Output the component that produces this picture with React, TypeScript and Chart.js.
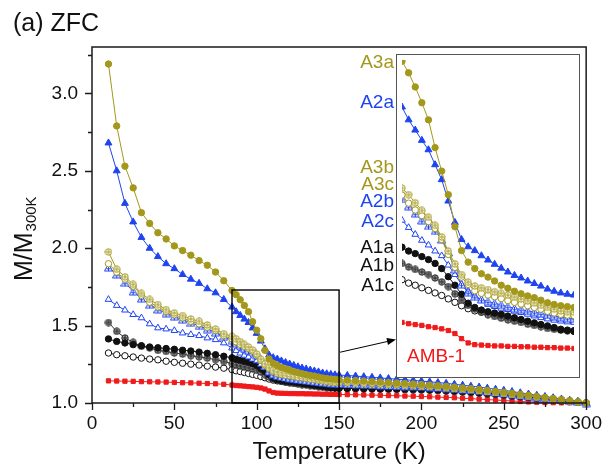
import React, { useEffect, useRef } from 'react';
import { Chart, registerables } from 'chart.js';

Chart.register(...registerables);

const FONT = '"Liberation Sans", Arial, Helvetica, sans-serif';
const OLIVE = '#a3981c';
const BLUE = '#1e44f0';
const RED = '#f01a1a';
const BLACK = '#111111';

const temps = [10, 15, 20, 25, 30, 35, 40, 45, 50, 55, 60, 65, 70, 75, 80, 85,
  87.5, 90, 92.5, 95, 97.5, 100, 102.5, 105, 107.5, 110, 112.5, 115, 117.5, 120, 122.5, 125, 127.5, 130, 132.5, 135, 137.5, 140, 142.5, 145, 147.5, 150,
  155, 160, 165, 170, 175, 180, 185, 190, 195, 200, 205, 210, 215, 220, 225, 230, 235, 240, 245, 250, 255, 260, 265, 270, 275, 280, 285, 290, 295, 300];

const a3a = [3.19, 2.79, 2.53, 2.39, 2.23, 2.16, 2.10, 2.06, 2.015, 1.985, 1.955, 1.92, 1.89, 1.846, 1.79, 1.727,
  1.70, 1.667, 1.63, 1.59, 1.525, 1.47, 1.415, 1.34, 1.284, 1.257, 1.242, 1.23, 1.222, 1.213, 1.203, 1.196, 1.189, 1.183, 1.178, 1.174, 1.168, 1.162, 1.158, 1.155, 1.153, 1.151,
  1.148, 1.145, 1.142, 1.139, 1.136, 1.133, 1.13, 1.127, 1.123, 1.12, 1.116, 1.112, 1.108, 1.103, 1.098, 1.093, 1.088, 1.082, 1.076, 1.07, 1.064, 1.057, 1.05, 1.043, 1.036, 1.029, 1.022, 1.015, 1.007, 1.0];

const a2a = [2.68, 2.50, 2.29, 2.17, 2.07, 2.00, 1.946, 1.90, 1.868, 1.83, 1.80, 1.773, 1.738, 1.712, 1.669, 1.62,
  1.59, 1.566, 1.542, 1.52, 1.485, 1.45, 1.40, 1.35, 1.31, 1.293, 1.284, 1.272, 1.262, 1.252, 1.243, 1.234, 1.226, 1.22, 1.213, 1.207, 1.201, 1.194, 1.189, 1.185, 1.182, 1.18,
  1.178, 1.174, 1.17, 1.166, 1.162, 1.158, 1.154, 1.15, 1.146, 1.142, 1.137, 1.132, 1.127, 1.121, 1.115, 1.109, 1.103, 1.096, 1.089, 1.082, 1.074, 1.066, 1.058, 1.05, 1.042, 1.034, 1.026, 1.017, 1.009, 1.0];

const a3b = [1.976, 1.864, 1.816, 1.766, 1.708, 1.669, 1.636, 1.604, 1.582, 1.565, 1.543, 1.528, 1.504, 1.478, 1.448, 1.43,
  1.415, 1.396, 1.378, 1.362, 1.343, 1.316, 1.283, 1.253, 1.228, 1.21, 1.201, 1.197, 1.193, 1.188, 1.184, 1.18, 1.175, 1.171, 1.167, 1.162, 1.156, 1.151, 1.147, 1.143, 1.141, 1.14,
  1.138, 1.136, 1.133, 1.131, 1.128, 1.126, 1.123, 1.12, 1.118, 1.115, 1.111, 1.107, 1.103, 1.099, 1.094, 1.089, 1.083, 1.077, 1.071, 1.065, 1.059, 1.053, 1.047, 1.041, 1.035, 1.028, 1.021, 1.014, 1.007, 1.0];

const a3c = [1.90, 1.846, 1.80, 1.755, 1.697, 1.651, 1.62, 1.591, 1.57, 1.55, 1.528, 1.511, 1.49, 1.468, 1.435, 1.414,
  1.395, 1.379, 1.366, 1.352, 1.336, 1.31, 1.275, 1.245, 1.222, 1.205, 1.19, 1.184, 1.18, 1.176, 1.172, 1.167, 1.163, 1.159, 1.155, 1.151, 1.147, 1.142, 1.138, 1.135, 1.133, 1.132,
  1.13, 1.128, 1.126, 1.124, 1.122, 1.12, 1.118, 1.115, 1.113, 1.11, 1.107, 1.103, 1.099, 1.095, 1.091, 1.086, 1.081, 1.075, 1.069, 1.063, 1.057, 1.051, 1.045, 1.039, 1.033, 1.027, 1.02, 1.013, 1.007, 1.0];

const a2b = [1.875, 1.831, 1.777, 1.72, 1.675, 1.635, 1.605, 1.58, 1.558, 1.538, 1.518, 1.498, 1.478, 1.455, 1.428, 1.405,
  1.388, 1.371, 1.355, 1.342, 1.33, 1.31, 1.28, 1.24, 1.205, 1.186, 1.176, 1.17, 1.165, 1.161, 1.157, 1.153, 1.149, 1.146, 1.143, 1.14, 1.137, 1.134, 1.131, 1.128, 1.126, 1.125,
  1.123, 1.121, 1.119, 1.117, 1.115, 1.113, 1.111, 1.109, 1.108, 1.106, 1.103, 1.1, 1.096, 1.092, 1.088, 1.084, 1.079, 1.074, 1.068, 1.062, 1.056, 1.05, 1.044, 1.038, 1.032, 1.026, 1.02, 1.013, 1.007, 1.0];

const a2c = [1.669, 1.63, 1.60, 1.571, 1.55, 1.511, 1.485, 1.478, 1.468, 1.452, 1.442, 1.435, 1.42, 1.409, 1.388, 1.355,
  1.338, 1.322, 1.308, 1.297, 1.283, 1.272, 1.25, 1.228, 1.205, 1.19, 1.178, 1.168, 1.158, 1.153, 1.149, 1.146, 1.142, 1.139, 1.135, 1.131, 1.127, 1.124, 1.121, 1.119, 1.117, 1.116,
  1.114, 1.113, 1.111, 1.11, 1.109, 1.108, 1.107, 1.105, 1.104, 1.102, 1.099, 1.096, 1.093, 1.089, 1.085, 1.081, 1.076, 1.071, 1.066, 1.06, 1.055, 1.049, 1.043, 1.037, 1.031, 1.025, 1.019, 1.013, 1.006, 1.0];

const a1a = [1.414, 1.398, 1.388, 1.377, 1.37, 1.362, 1.357, 1.352, 1.347, 1.341, 1.336, 1.329, 1.321, 1.312, 1.302, 1.292,
  1.283, 1.277, 1.27, 1.263, 1.254, 1.242, 1.223, 1.203, 1.182, 1.161, 1.151, 1.145, 1.141, 1.138, 1.135, 1.131, 1.127, 1.123, 1.119, 1.115, 1.111, 1.108, 1.104, 1.099, 1.097, 1.095,
  1.094, 1.094, 1.093, 1.093, 1.092, 1.092, 1.091, 1.091, 1.09, 1.089, 1.087, 1.085, 1.082, 1.079, 1.076, 1.072, 1.068, 1.064, 1.059, 1.054, 1.049, 1.044, 1.039, 1.034, 1.029, 1.023, 1.017, 1.011, 1.006, 1.0];

const a1b = [1.52, 1.463, 1.42, 1.392, 1.366, 1.355, 1.34, 1.333, 1.323, 1.316, 1.305, 1.298, 1.29, 1.28, 1.268, 1.254,
  1.246, 1.24, 1.234, 1.228, 1.22, 1.211, 1.2, 1.183, 1.168, 1.156, 1.147, 1.14, 1.134, 1.13, 1.126, 1.122, 1.119, 1.116, 1.112, 1.109, 1.106, 1.102, 1.1, 1.098, 1.097, 1.096,
  1.095, 1.094, 1.093, 1.092, 1.091, 1.09, 1.089, 1.088, 1.087, 1.086, 1.084, 1.082, 1.079, 1.076, 1.073, 1.069, 1.065, 1.061, 1.057, 1.052, 1.047, 1.042, 1.037, 1.032, 1.027, 1.021, 1.016, 1.01, 1.005, 1.0];

const a1c = [1.323, 1.312, 1.305, 1.297, 1.29, 1.284, 1.279, 1.27, 1.263, 1.257, 1.251, 1.245, 1.238, 1.232, 1.225, 1.216,
  1.208, 1.203, 1.197, 1.191, 1.185, 1.179, 1.171, 1.163, 1.155, 1.148, 1.143, 1.14, 1.136, 1.133, 1.129, 1.126, 1.122, 1.119, 1.116, 1.112, 1.109, 1.105, 1.102, 1.1, 1.098, 1.097,
  1.096, 1.095, 1.093, 1.092, 1.09, 1.089, 1.088, 1.086, 1.085, 1.084, 1.082, 1.08, 1.077, 1.074, 1.071, 1.067, 1.063, 1.059, 1.055, 1.05, 1.045, 1.04, 1.035, 1.03, 1.025, 1.02, 1.015, 1.01, 1.005, 1.0];

const amb1 = [1.143, 1.142, 1.141, 1.14, 1.138, 1.137, 1.136, 1.135, 1.133, 1.131, 1.13, 1.128, 1.126, 1.124, 1.121, 1.116,
  1.113, 1.111, 1.109, 1.106, 1.104, 1.101, 1.097, 1.09, 1.078, 1.068, 1.064, 1.063, 1.062, 1.061, 1.061, 1.06, 1.06, 1.059, 1.059, 1.058, 1.058, 1.057, 1.057, 1.056, 1.056, 1.055,
  1.054, 1.053, 1.052, 1.051, 1.05, 1.048, 1.047, 1.045, 1.044, 1.042, 1.04, 1.038, 1.036, 1.034, 1.031, 1.028, 1.025, 1.022, 1.019, 1.016, 1.013, 1.01, 1.007, 1.005, 1.003, 1.002, 1.001, 1.001, 1.0, 1.0];

const xMajorTicks = [0, 50, 100, 150, 200, 250, 300];
const xMinorTicks = [25, 75, 125, 175, 225, 275];
const yMajorTicks = [1.0, 1.5, 2.0, 2.5, 3.0];
const yMinorTicks = [1.25, 1.75, 2.25, 2.75, 3.25];

const zoomRange = { xMin: 85, xMax: 150, yMin: 1.0, yMax: 1.73 };

// label layout for the inset legend (pixel rows, right aligned next to inset)
const labelRows: [string, string, number][] = [
  ['A3a', OLIVE, 63], ['A2a', BLUE, 103], ['A3b', OLIVE, 168], ['A3c', OLIVE, 185],
  ['A2b', BLUE, 202], ['A2c', BLUE, 222], ['A1a', BLACK, 248], ['A1b', BLACK, 266], ['A1c', BLACK, 286],
];

function makeMarker(kind: string, stroke: string, fill: string, size = 8) {
  const c = document.createElement('canvas');
  c.width = size; c.height = size;
  const g = c.getContext('2d')!;
  g.lineWidth = 1;
  g.strokeStyle = stroke; g.fillStyle = fill;
  const m = size / 2;
  if (kind === 'circlePlus') {
    g.beginPath(); g.arc(m, m, m - 0.8, 0, Math.PI * 2); g.fill(); g.stroke();
    g.beginPath(); g.moveTo(m, 1.5); g.lineTo(m, size - 1.5); g.moveTo(1.5, m); g.lineTo(size - 1.5, m); g.stroke();
  } else {
    g.beginPath(); g.moveTo(m, 0.5); g.lineTo(size - 0.5, size - 1); g.lineTo(0.5, size - 1); g.closePath(); g.fill(); g.stroke();
    g.beginPath(); g.moveTo(m, 3); g.lineTo(m, size - 1); g.moveTo(2.5, size * 0.64); g.lineTo(size - 2.5, size * 0.64); g.stroke();
  }
  return c;
}

export default function App() {
  const mainRef = useRef<HTMLCanvasElement>(null);
  const insetRef = useRef<HTMLCanvasElement>(null);

  useEffect(() => {
    const series = [
      { label: 'A3a', values: a3a, color: OLIVE, pointStyle: 'circle' as any, fill: OLIVE, radius: 3.2 },
      { label: 'A2a', values: a2a, color: BLUE, pointStyle: 'triangle' as any, fill: BLUE, radius: 4 },
      { label: 'A3b', values: a3b, color: OLIVE, pointStyle: makeMarker('circlePlus', OLIVE, '#ffffff') as any, fill: '#fff', radius: 4 },
      { label: 'A3c', values: a3c, color: OLIVE, pointStyle: 'circle' as any, fill: '#ffffff', radius: 3.2 },
      { label: 'A2b', values: a2b, color: BLUE, pointStyle: makeMarker('triPlus', BLUE, '#ffffff', 9) as any, fill: '#fff', radius: 4 },
      { label: 'A2c', values: a2c, color: BLUE, pointStyle: 'triangle' as any, fill: '#ffffff', radius: 3.8 },
      { label: 'A1a', values: a1a, color: BLACK, pointStyle: 'circle' as any, fill: BLACK, radius: 3.2 },
      { label: 'A1b', values: a1b, color: '#333333', pointStyle: makeMarker('circlePlus', '#222222', '#9a9a9a') as any, fill: '#999', radius: 4 },
      { label: 'A1c', values: a1c, color: BLACK, pointStyle: 'circle' as any, fill: '#ffffff', radius: 3.2 },
      { label: 'AMB-1', values: amb1, color: RED, pointStyle: 'rect' as any, fill: RED, radius: 3 },
    ];
    const build = (clip: any) => series.map((s) => ({
      label: s.label,
      data: temps.map((t, i) => ({ x: t, y: s.values[i] })),
      borderColor: s.color,
      backgroundColor: s.fill,
      borderWidth: 1,
      pointStyle: s.pointStyle,
      pointRadius: s.radius,
      pointBackgroundColor: s.fill,
      pointBorderColor: s.color,
      pointBorderWidth: 1,
      tension: 0,
      fill: false,
      clip,
    }));

    const mainDecor = {
      id: 'mainDecor',
      afterDraw(chart: any) {
        const { ctx, chartArea: a, scales } = chart;
        const x = scales.x, y = scales.y;
        ctx.save();
        ctx.strokeStyle = '#1a1a1a';
        ctx.lineWidth = 1.3;
        ctx.beginPath();
        xMajorTicks.forEach((t) => { const p = Math.round(x.getPixelForValue(t)) + 0.5; ctx.moveTo(p, a.bottom); ctx.lineTo(p, a.bottom + 7); });
        xMinorTicks.forEach((t) => { const p = Math.round(x.getPixelForValue(t)) + 0.5; ctx.moveTo(p, a.bottom); ctx.lineTo(p, a.bottom + 4); });
        yMajorTicks.forEach((v) => { const p = Math.round(y.getPixelForValue(v)) + 0.5; ctx.moveTo(a.left, p); ctx.lineTo(a.left - 7, p); });
        yMinorTicks.forEach((v) => { const p = Math.round(y.getPixelForValue(v)) + 0.5; ctx.moveTo(a.left, p); ctx.lineTo(a.left - 4, p); });
        ctx.stroke();
        ctx.lineWidth = 1.5;
        ctx.strokeRect(a.left, a.top, a.right - a.left, a.bottom - a.top);

        // zoom rectangle
        const rx0 = x.getPixelForValue(zoomRange.xMin), rx1 = x.getPixelForValue(zoomRange.xMax);
        const ry0 = y.getPixelForValue(zoomRange.yMax), ry1 = y.getPixelForValue(zoomRange.yMin);
        ctx.strokeStyle = '#000';
        ctx.lineWidth = 1.4;
        ctx.strokeRect(rx0, ry0, rx1 - rx0, ry1 - ry0);

        // arrow to inset
        const sx = rx1 + 1, sy = y.getPixelForValue(1.328);
        const ex = 396, ey = y.getPixelForValue(1.41);
        const ang = Math.atan2(ey - sy, ex - sx);
        ctx.lineWidth = 1;
        ctx.beginPath(); ctx.moveTo(sx, sy); ctx.lineTo(ex - 6 * Math.cos(ang), ey - 6 * Math.sin(ang)); ctx.stroke();
        ctx.fillStyle = '#000';
        ctx.beginPath();
        ctx.moveTo(ex, ey);
        ctx.lineTo(ex - 9 * Math.cos(ang) + 3.5 * Math.sin(ang), ey - 9 * Math.sin(ang) - 3.5 * Math.cos(ang));
        ctx.lineTo(ex - 9 * Math.cos(ang) - 3.5 * Math.sin(ang), ey - 9 * Math.sin(ang) + 3.5 * Math.cos(ang));
        ctx.closePath(); ctx.fill();

        // texts
        ctx.fillStyle = '#111';
        ctx.font = `25px ${FONT}`;
        ctx.textAlign = 'left';
        ctx.textBaseline = 'alphabetic';
        ctx.fillText('(a) ZFC', 13, 31);
        ctx.font = `24px ${FONT}`;
        ctx.textAlign = 'center';
        ctx.fillText('Temperature (K)', (a.left + a.right) / 2, 459);

        // y title rotated
        ctx.save();
        ctx.translate(32, 281);
        ctx.rotate(-Math.PI / 2);
        ctx.textAlign = 'left';
        ctx.font = `25px ${FONT}`;
        ctx.fillText('M/M', 0, 0);
        const w = ctx.measureText('M/M').width;
        ctx.font = `15px ${FONT}`;
        ctx.fillText('300K', w + 1, 4);
        ctx.restore();

        // series labels next to inset
        ctx.font = `19px ${FONT}`;
        ctx.textAlign = 'right';
        ctx.textBaseline = 'middle';
        labelRows.forEach(([t, c, py]) => { ctx.fillStyle = c; ctx.fillText(t, 394, py); });
        ctx.restore();
      },
    };

    const insetDecor = {
      id: 'insetDecor',
      afterDraw(chart: any) {
        const { ctx, chartArea: a } = chart;
        ctx.save();
        ctx.fillStyle = RED;
        ctx.font = `19px ${FONT}`;
        ctx.textAlign = 'left';
        ctx.textBaseline = 'middle';
        ctx.fillText('AMB-1', a.left + 5, a.top + 297);
        ctx.restore();
      },
    };

    const tickFont = { family: FONT, size: 19 };
    const main = new Chart(mainRef.current!, {
      type: 'line',
      data: { datasets: build(false) as any },
      options: {
        responsive: false,
        animation: false,
        events: [],
        layout: { padding: { left: 0, top: 47, right: 18, bottom: 0 } },
        plugins: { legend: { display: false }, tooltip: { enabled: false } },
        scales: {
          x: {
            type: 'linear', min: 0, max: 300,
            border: { display: false },
            grid: { display: false, drawTicks: false },
            ticks: { stepSize: 50, padding: 9, color: '#111', font: tickFont, maxRotation: 0, autoSkip: false, includeBounds: false },
            afterFit: (s: any) => { s.height = 70; },
          },
          y: {
            type: 'linear', min: 1, max: 3.3,
            border: { display: false },
            grid: { display: false, drawTicks: false },
            ticks: {
              stepSize: 0.5, padding: 14, color: '#111', font: tickFont, autoSkip: false, includeBounds: false,
              callback: (v: any) => (Math.abs(v * 2 - Math.round(v * 2)) < 1e-6 ? Number(v).toFixed(1) : ''),
            },
            afterFit: (s: any) => { s.width = 92; },
          },
        },
      } as any,
      plugins: [mainDecor],
    });

    const inset = new Chart(insetRef.current!, {
      type: 'line',
      data: { datasets: build(undefined) as any },
      options: {
        responsive: false,
        animation: false,
        events: [],
        layout: { padding: 0 },
        plugins: { legend: { display: false }, tooltip: { enabled: false } },
        scales: {
          x: { type: 'linear', min: zoomRange.xMin, max: zoomRange.xMax, display: false },
          y: { type: 'linear', min: zoomRange.yMin, max: zoomRange.yMax, display: false },
        },
      } as any,
      plugins: [insetDecor],
    });

    return () => { main.destroy(); inset.destroy(); };
  }, []);

  return (
    <div style={{ position: 'fixed', left: 0, top: 0, width: 611, height: 473, background: '#fff' }}>
      <canvas ref={mainRef} width={611} height={473} style={{ position: 'absolute', left: 0, top: 0 }} />
      <div style={{ position: 'absolute', left: 396, top: 54, width: 182, height: 322, border: '1px solid #555', background: '#fff' }}>
        <canvas ref={insetRef} width={182} height={322} style={{ display: 'block' }} />
      </div>
    </div>
  );
}
